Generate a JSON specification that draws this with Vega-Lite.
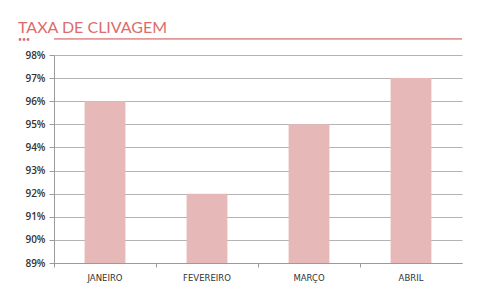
{
  "$schema": "https://vega.github.io/schema/vega-lite/v6.json",
  "width": 408,
  "height": 208,
  "autosize": "none",
  "padding": {"left": 54, "top": 55, "right": 24, "bottom": 28},
  "background": "white",
  "title": {
    "text": "TAXA DE CLIVAGEM",
    "subtitle": "•••",
    "anchor": "start",
    "frame": "group",
    "dx": -36,
    "dy": 15,
    "offset": 10,
    "font": "Lato",
    "fontSize": 16,
    "fontWeight": "normal",
    "color": "#dc6b6b",
    "subtitleFont": "Lato",
    "subtitleFontSize": 7,
    "subtitleColor": "#dc6b6b",
    "subtitlePadding": 0
  },
  "config": {
    "view": {"stroke": null},
    "axis": {
      "labelFont": "Open Sans",
      "labelColor": "#333333",
      "domainColor": "#9a9a9a",
      "tickColor": "#9a9a9a",
      "gridColor": "#b4b4b4",
      "labelOverlap": false
    },
    "axisY": {
      "title": null,
      "values": [89, 90, 91, 92, 93, 94, 95, 96, 97, 98],
      "labelExpr": "datum.value + '%'",
      "labelFontSize": 10,
      "labelFontWeight": 600,
      "labelPadding": 4,
      "tickSize": 5,
      "grid": true
    }
  },
  "data": {
    "values": [
      {"mes": "JANEIRO", "taxa": 96},
      {"mes": "FEVEREIRO", "taxa": 92},
      {"mes": "MARÇO", "taxa": 95},
      {"mes": "ABRIL", "taxa": 97}
    ]
  },
  "layer": [
    {
      "mark": {"type": "bar", "color": "#e6b9b8", "width": {"band": 0.4}},
      "encoding": {
        "x": {
          "field": "mes",
          "type": "nominal",
          "sort": null,
          "scale": {"paddingInner": 0, "paddingOuter": 0},
          "axis": {
            "title": null,
            "labelAngle": 0,
            "labelFont": "DejaVu Sans",
            "labelFontSize": 8.5,
            "labelPadding": 6,
            "bandPosition": 0,
            "tickSize": 4,
            "grid": false
          }
        },
        "y": {
          "field": "taxa",
          "type": "quantitative",
          "scale": {"domain": [89, 98], "zero": false, "nice": false},
          "axis": {"title": null, "values": [89, 90, 91, 92, 93, 94, 95, 96, 97, 98]}
        },
        "y2": {"datum": 89}
      }
    },
    {
      "mark": {"type": "rule", "color": "#e39a9a", "strokeWidth": 1},
      "encoding": {
        "y": {"datum": 98.7, "axis": {"title": null, "values": [89, 90, 91, 92, 93, 94, 95, 96, 97, 98]}}
      }
    }
  ]
}
